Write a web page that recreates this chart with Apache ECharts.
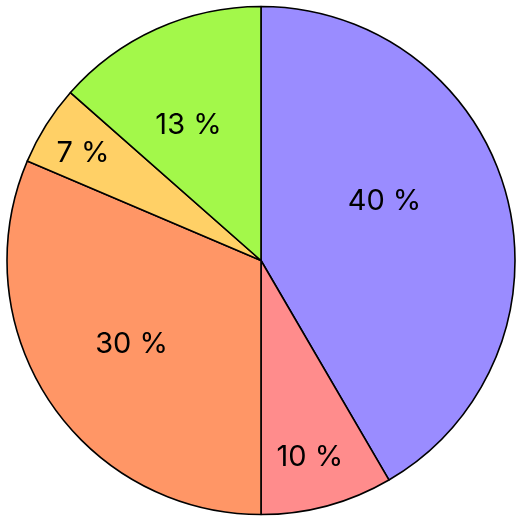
<!DOCTYPE html>
<html>
<head>
<meta charset="utf-8">
<script src="https://cdn.jsdelivr.net/npm/echarts@6/dist/echarts.min.js"></script>
<style>html,body{margin:0;padding:0;background:#fff}#c{width:521px;height:521px}</style>
</head>
<body>
<div id="c"></div>
<script>
const labels = ['40 %', '10 %', '30 %', '7 %', '13 %'];
const values = [41.6, 8.4, 31.4, 5.1, 13.5];
const colors = ['#9a8cff', '#ff8c8c', '#ff9666', '#ffd066', '#a3f84a'];
// label nudges from the default "inside" spot (layout only)
const labelDx = [-2, 15, -21, -68, -19];
const labelDy = [-25, 71, 12, -38, -17];

const chart = echarts.init(document.getElementById('c'), null, {renderer: 'canvas'});
chart.setOption({
  animation: false,
  backgroundColor: '#ffffff',
  series: [{
    type: 'pie',
    center: [261, 260.5],
    radius: [0, 254],
    startAngle: 90,
    clockwise: true,
    avoidLabelOverlap: false,
    emphasis: {disabled: true},
    itemStyle: {borderColor: '#000', borderWidth: 1.6},
    label: {
      show: true,
      position: 'inside',
      color: '#000',
      fontFamily: 'Inter',
      fontSize: 29,
      formatter: p => labels[p.dataIndex]
    },
    labelLine: {show: false},
    labelLayout: p => ({dx: labelDx[p.dataIndex], dy: labelDy[p.dataIndex]}),
    data: values.map((v, i) => ({value: v, name: labels[i], itemStyle: {color: colors[i]}}))
  }]
});
</script>
</body>
</html>
